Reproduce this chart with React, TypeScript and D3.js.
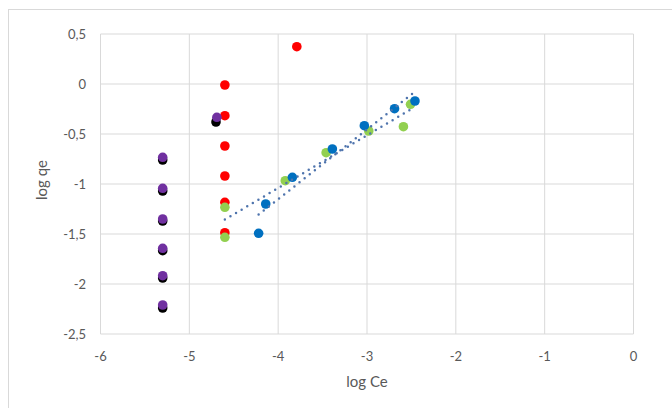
import React from "react";
import * as d3 from "d3";

const xTicks = [-6, -5, -4, -3, -2, -1, 0];
const yTicks = [0.5, 0, -0.5, -1, -1.5, -2, -2.5];

const redX = [-4.6, -4.6, -4.6, -4.6, -4.6, -4.6, -3.79];
const redY = [-0.01, -0.317, -0.62, -0.92, -1.183, -1.487, 0.373];

const blackX = [-5.3, -5.3, -5.3, -5.3, -5.3, -5.3, -4.7];
const blackY = [-0.76, -1.07, -1.37, -1.667, -1.94, -2.24, -0.38];

const purpleX = [-5.3, -5.3, -5.3, -5.3, -5.3, -5.3, -4.69];
const purpleY = [-0.733, -1.043, -1.35, -1.643, -1.917, -2.21, -0.333];

const greenX = [-4.6, -4.6, -3.92, -3.46, -2.98, -2.59, -2.51];
const greenY = [-1.233, -1.533, -0.967, -0.687, -0.47, -0.427, -0.203];

const blueX = [-4.22, -4.14, -3.84, -3.39, -3.03, -2.69, -2.46];
const blueY = [-1.493, -1.2, -0.933, -0.65, -0.417, -0.247, -0.17];

const series = [
  { name: "red", xs: redX, ys: redY, color: "#FF0000" },
  { name: "black", xs: blackX, ys: blackY, color: "#000000" },
  { name: "purple", xs: purpleX, ys: purpleY, color: "#7030A0" },
  { name: "green", xs: greenX, ys: greenY, color: "#92D050" },
  { name: "blue", xs: blueX, ys: blueY, color: "#0070C0" },
];

const trendSeries = [
  { xs: greenX, ys: greenY },
  { xs: blueX, ys: blueY },
];

function fit(xs: number[], ys: number[]) {
  const mx = d3.mean(xs) as number;
  const my = d3.mean(ys) as number;
  let sxy = 0, sxx = 0;
  xs.forEach((x, i) => {
    sxy += (x - mx) * (ys[i] - my);
    sxx += (x - mx) * (x - mx);
  });
  const slope = sxy / sxx;
  const icpt = my - slope * mx;
  const [x0, x1] = d3.extent(xs) as [number, number];
  return [
    [x0, icpt + slope * x0],
    [x1, icpt + slope * x1],
  ] as [number, number][];
}

export default function App() {
  const W = 672, H = 408;
  const x = d3.scaleLinear().domain([-6, 0]).range([100.5, 633.5]);
  const y = d3.scaleLinear().domain([0.5, -2.5]).range([34, 334]);
  const font = "Lato, 'Open Sans', sans-serif";
  const tc = "#595959";
  const line = d3.line<[number, number]>().x(d => x(d[0])).y(d => y(d[1]));
  return (
    <svg width={W} height={H} style={{ position: "absolute", left: 0, top: 0, background: "#fff" }}>
      <rect x={8.5} y={9.5} width={W + 10} height={H + 10} fill="#fff" stroke="#d9d9d9" />
      {xTicks.map(t => (
        <line key={"gx" + t} x1={x(t)} x2={x(t)} y1={y(0.5)} y2={y(-2.5)} stroke="#d9d9d9" strokeWidth={1} />
      ))}
      {yTicks.map(t => (
        <line key={"gy" + t} x1={x(-6)} x2={x(0)} y1={y(t)} y2={y(t)} stroke="#d9d9d9" strokeWidth={1} />
      ))}
      {yTicks.map(t => (
        <text key={"ty" + t} x={86} y={y(t)} dy="0.35em" textAnchor="end" fontFamily={font} fontSize={13} fill={tc}>
          {String(t).replace(".", ",")}
        </text>
      ))}
      {xTicks.map(t => (
        <text key={"tx" + t} x={x(t)} y={356} dy="0.35em" textAnchor="middle" fontFamily={font} fontSize={13} fill={tc}>
          {String(t)}
        </text>
      ))}
      <text x={367} y={382} dy="0.35em" textAnchor="middle" fontFamily={font} fontSize={15} fill={tc}>log Ce</text>
      <text transform={`translate(42,180) rotate(-90)`} dy="0.35em" textAnchor="middle" fontFamily={font} fontSize={15} fill={tc}>log qe</text>
      {series.map(s => (
        <g key={s.name}>
          {s.xs.map((xv, i) => (
            <circle key={i} cx={x(xv)} cy={y(s.ys[i])} r={4.8} fill={s.color} />
          ))}
        </g>
      ))}
      {trendSeries.map((t, i) => (
        <path key={"tr" + i} d={line(fit(t.xs, t.ys)) || ""} fill="none" stroke="#4f74ad" strokeWidth={2.5} strokeLinecap="round" strokeDasharray="0,6.5" />
      ))}
    </svg>
  );
}
